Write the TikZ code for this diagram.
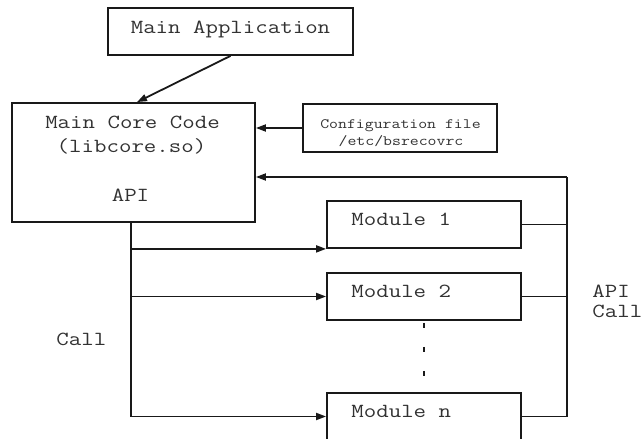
\documentclass[tikz,border=0pt]{standalone}
\usepackage{fontspec}
\newfontfamily\typewr[FakeStretch=1.21]{Latin Modern Mono}
\usetikzlibrary{arrows.meta,calc}
\definecolor{inkline}{RGB}{25,25,25}
\definecolor{inktext}{RGB}{50,50,50}
\begin{document}
\begin{tikzpicture}[x=1pt,y=-1pt,
  line width=1.8pt,
  every path/.style={draw=inkline},
  boxnode/.style={draw=inkline, line width=1.8pt, rectangle, inner sep=0pt, fill=white},
  bigtext/.style={font=\typewr\fontsize{20}{24}\selectfont, text=inktext, inner sep=0pt},
  smalltext/.style={font=\typewr\fontsize{14.3}{18}\selectfont, text=inktext, inner sep=0pt},
  arr/.style={-{Triangle[length=10pt,width=7pt]}},
  dots/.style={line width=1.6pt, dash pattern=on 5pt off 19pt, dash phase=22pt}
]
\useasboundingbox[fill=white, draw=none] (0,0) rectangle (641,439);

% boxes
\node[boxnode, minimum width=245pt, minimum height=47pt] (app) at (230.5,31.5) {};
\node[boxnode, minimum width=243pt, minimum height=119pt] (core) at (133.5,162.5) {};
\node[boxnode, minimum width=194pt, minimum height=48pt] (config) at (400,128) {};
\node[boxnode, minimum width=194pt, minimum height=47pt] (mod1) at (424,224.5) {};
\node[boxnode, minimum width=194pt, minimum height=47pt] (mod2) at (424,296.5) {};
\node[boxnode, minimum width=194pt, minimum height=47pt] (modn) at (424,416.5) {};

% box texts
\node[bigtext, anchor=base] (apptxt) at (230.5,33.5) {Main Application};
\node[bigtext, anchor=base] (coretxt1) at (132.5,128.5) {Main Core Code};
\node[bigtext, anchor=base] (coretxt2) at (131.5,152) {(libcore.so)};
\node[bigtext, anchor=base] (coretxt3) at (130.5,201.5) {API};
\node[smalltext, anchor=base] (cfgtxt1) at (400.5,128.5) {Configuration file};
\node[smalltext, anchor=base] (cfgtxt2) at (401,145.5) {/etc/bsrecovrc};
\node[bigtext, anchor=base west] (m1txt) at (350.5,225) {Module 1};
\node[bigtext, anchor=base west] (m2txt) at (350.5,297) {Module 2};
\node[bigtext, anchor=base west] (mntxt) at (350.5,417.5) {Module n};

% side labels
\node[bigtext, anchor=base west] (calllbl) at (55.5,345) {Call};
\node[bigtext, anchor=base west] (apilbl) at (591.5,297) {API};
\node[bigtext, anchor=base west] (apicall) at (591.5,317) {Call};

% application to core
\draw[arr] (app.south) -- ([xshift=3.5pt]core.north);

% configuration file to core
\draw[arr] (config.west) -- (config.west -| core.east);

% call bus from the core down to the modules
\coordinate (calltop) at (131,222);
\coordinate (callbot) at (131,416.5);
\draw (calltop) -- (callbot);
\draw[arr] (calltop |- mod1.south west) -- (mod1.south west);
\draw[arr] (calltop |- mod2.west) -- (mod2.west);
\draw[arr] (callbot) -- (modn.west);

% API call bus from the modules back to the core
\coordinate (apitop) at (567,177);
\coordinate (apibot) at (567,416.5);
\draw (modn.east) -- (apibot) -- (apitop);
\draw[arr] (apitop) -- (apitop -| core.east);
\draw (mod1.east) -- (mod1.east -| apitop);
\draw (mod2.east) -- (mod2.east -| apitop);

% further modules between module 2 and module n
\draw[dots] (mod2.south) -- (modn.north);
\end{tikzpicture}
\end{document}
